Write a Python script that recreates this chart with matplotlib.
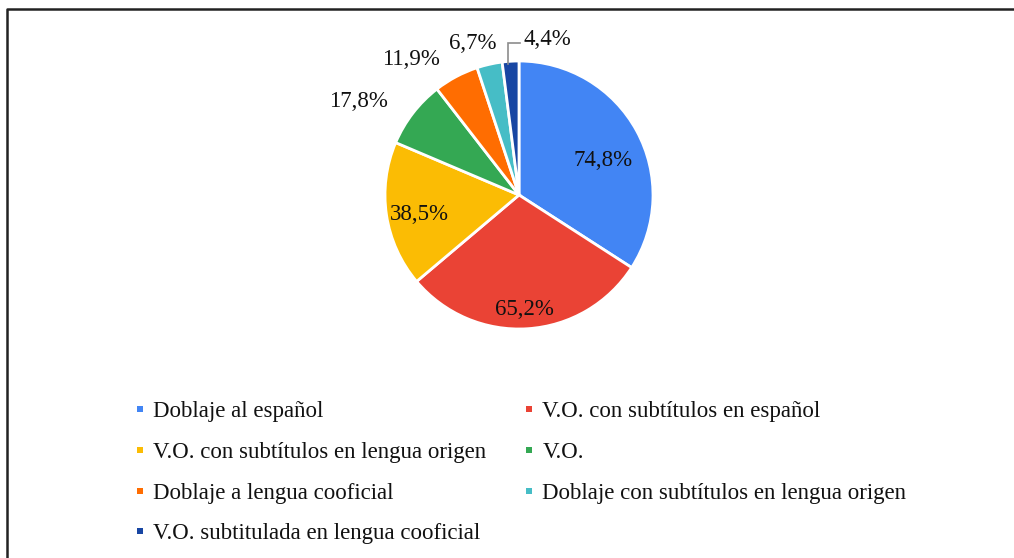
import matplotlib
matplotlib.use("Agg")
import matplotlib.pyplot as plt
from matplotlib.lines import Line2D
import numpy as np

# Survey data: preferred viewing mode (percent of respondents, multiple choice)
categories = [
    "Doblaje al español",
    "V.O. con subtítulos en español",
    "V.O. con subtítulos en lengua origen",
    "V.O.",
    "Doblaje a lengua cooficial",
    "Doblaje con subtítulos en lengua origen",
    "V.O. subtitulada en lengua cooficial",
]
values = [74.8, 65.2, 38.5, 17.8, 11.9, 6.7, 4.4]
colors = ["#4285F4", "#EA4335", "#FBBC04", "#34A853", "#FF6D01", "#46BDC6", "#1846A3"]

# label anchor points in pie-radius units (x, y) and alignment
label_pos = [(0.627, 0.255), (0.037, -0.851), (-0.746, -0.142), (-1.20, 0.70),
             (-0.806, 1.011), (-0.343, 1.134), (0.030, 1.157)]
label_ha = ["center"] * 6 + ["left"]

plt.rcParams["font.family"] = ["Liberation Serif", "DejaVu Serif"]
FS = 16.5

W, H = 1014, 558
fig = plt.figure(figsize=(W / 100, H / 100), dpi=100)

# pie axes: centre (519, 195) px, radius 134 px
cx, cy, R = 519, 195, 134
ax = fig.add_axes([(cx - R) / W, 1 - (cy + R) / H, 2 * R / W, 2 * R / H])
wedges, _ = ax.pie(values, colors=colors, startangle=90, counterclock=False,
                   wedgeprops=dict(edgecolor="white", linewidth=2.0))
ax.set_xlim(-1, 1)
ax.set_ylim(-1, 1)
ax.set_aspect("equal")
ax.axis("off")

for v, (lx, ly), ha in zip(values, label_pos, label_ha):
    txt = f"{v:.1f}%".replace(".", ",")
    ax.text(lx, ly, txt, ha=ha, va="center", fontsize=FS, color="#111111",
            clip_on=False)

# leader line for the smallest slice
ax.plot([-0.082, -0.082, 0.007], [0.975, 1.134, 1.134], color="#8c8c8c",
        linewidth=1.2, clip_on=False, solid_joinstyle="miter")

# legend, row-major order in two columns
handles = [Line2D([], [], marker="s", linestyle="", markersize=5, color=c,
                  markeredgewidth=0) for c in colors]
order = [0, 2, 4, 6, 1, 3, 5]
fig.legend([handles[i] for i in order], [categories[i] for i in order],
           loc="upper left", bbox_to_anchor=(134.5 / W, 1 - 401 / H),
           ncol=2, frameon=False, fontsize=FS, borderpad=0, borderaxespad=0,
           handlelength=0.48, handletextpad=0.33, columnspacing=1.64,
           labelspacing=0.86, handleheight=0.7, labelcolor="#111111")

# frame lines along the top and left edges
fig.add_artist(Line2D([7 / W, 7 / W, 1.0], [0.0, 1 - 9 / H, 1 - 9 / H],
                      transform=fig.transFigure, color="#222222", linewidth=1.8))

fig.savefig("out.png", dpi=100, facecolor="white")
